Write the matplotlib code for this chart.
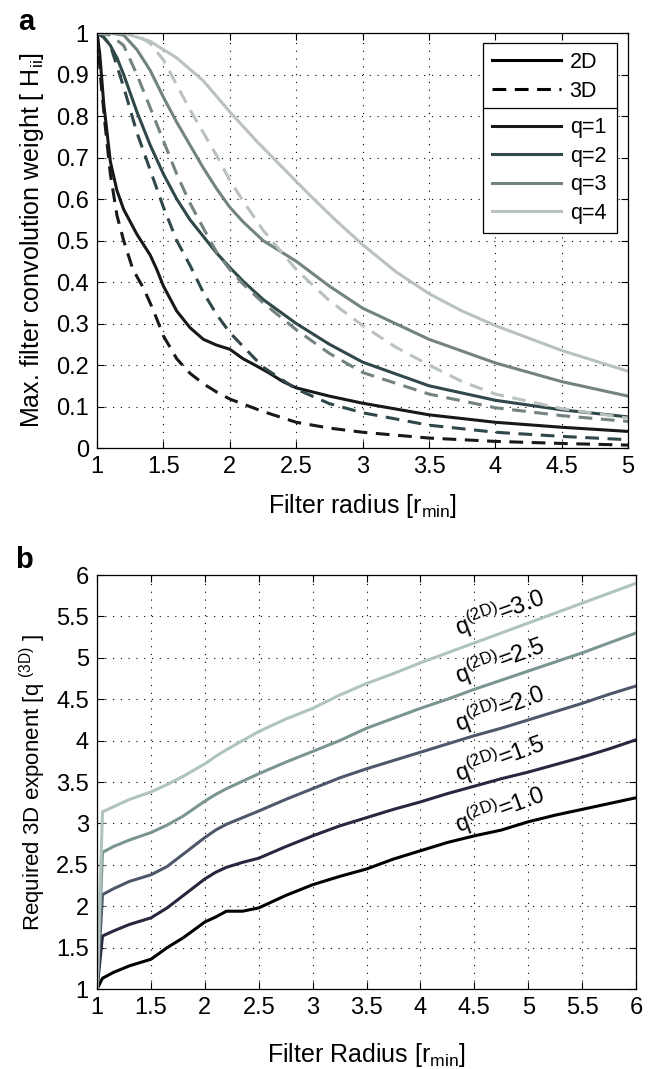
import matplotlib
matplotlib.use("Agg")
import matplotlib.pyplot as plt
from matplotlib.lines import Line2D
from matplotlib.ticker import MultipleLocator, FormatStrFormatter

plt.rcParams["font.family"] = ["Liberation Sans", "DejaVu Sans"]
plt.rcParams["mathtext.default"] = "regular"

# ── panel a: max. filter convolution weight vs filter radius ──
q1_2d_x = [1, 1.02, 1.05, 1.1, 1.15, 1.2, 1.3, 1.4, 1.45, 1.5, 1.6, 1.7, 1.8, 1.9, 2,
           2.1, 2.2, 2.3, 2.4, 2.5, 2.75, 3, 3.5, 4, 4.5, 5]
q1_2d_y = [1, 0.95, 0.83, 0.69, 0.62, 0.575, 0.515, 0.465, 0.43, 0.39, 0.33, 0.29, 0.262,
           0.248, 0.238, 0.215, 0.198, 0.18, 0.16, 0.145, 0.125, 0.108, 0.08, 0.062, 0.05, 0.04]
q1_3d_x = [1, 1.03, 1.06, 1.1, 1.15, 1.2, 1.27, 1.35, 1.42, 1.5, 1.6, 1.7, 1.8, 1.9, 2,
           2.25, 2.5, 2.75, 3, 3.5, 4, 4.5, 5]
q1_3d_y = [1, 0.88, 0.78, 0.66, 0.56, 0.5, 0.43, 0.385, 0.335, 0.27, 0.215, 0.18, 0.155,
           0.135, 0.118, 0.088, 0.062, 0.048, 0.038, 0.024, 0.016, 0.011, 0.007]
q2_2d_x = [1, 1.05, 1.1, 1.15, 1.2, 1.3, 1.4, 1.5, 1.6, 1.7, 1.8, 1.9, 2, 2.1, 2.25,
           2.5, 2.75, 3, 3.5, 4, 4.5, 5]
q2_2d_y = [1, 0.99, 0.97, 0.94, 0.9, 0.81, 0.73, 0.66, 0.6, 0.55, 0.51, 0.47, 0.435, 0.402,
           0.358, 0.3, 0.25, 0.207, 0.15, 0.115, 0.092, 0.075]
q2_3d_x = [1, 1.05, 1.1, 1.15, 1.2, 1.3, 1.4, 1.5, 1.6, 1.7, 1.8, 1.9, 2, 2.25, 2.5,
           2.75, 3, 3.5, 4, 4.5, 5]
q2_3d_y = [1, 0.99, 0.97, 0.92, 0.87, 0.76, 0.67, 0.58, 0.5, 0.44, 0.375, 0.322, 0.278,
           0.195, 0.142, 0.107, 0.085, 0.055, 0.038, 0.028, 0.02]
q3_2d_x = [1, 1.1, 1.2, 1.3, 1.4, 1.5, 1.6, 1.7, 1.8, 1.9, 2, 2.1, 2.25, 2.5, 2.75, 3,
           3.5, 4, 4.5, 5]
q3_2d_y = [1, 1.0, 0.995, 0.96, 0.91, 0.845, 0.785, 0.73, 0.675, 0.625, 0.58, 0.545, 0.5,
           0.45, 0.39, 0.337, 0.262, 0.205, 0.16, 0.125]
q3_3d_x = [1, 1.1, 1.2, 1.3, 1.4, 1.5, 1.6, 1.7, 1.8, 1.9, 2, 2.1, 2.25, 2.5, 2.75, 3,
           3.5, 4, 4.5, 5]
q3_3d_y = [1, 0.995, 0.97, 0.9, 0.82, 0.74, 0.66, 0.59, 0.53, 0.472, 0.43, 0.395, 0.35,
           0.285, 0.228, 0.182, 0.13, 0.097, 0.078, 0.064]
q4_2d_x = [1, 1.2, 1.4, 1.6, 1.8, 2, 2.2, 2.4, 2.6, 2.8, 3, 3.25, 3.5, 3.75, 4, 4.5, 5]
q4_2d_y = [1, 1.0, 0.98, 0.94, 0.885, 0.81, 0.74, 0.675, 0.61, 0.548, 0.49, 0.425, 0.372,
           0.33, 0.295, 0.235, 0.185]
q4_3d_x = [1, 1.2, 1.3, 1.4, 1.5, 1.6, 1.7, 1.8, 1.9, 2, 2.1, 2.25, 2.5, 2.75, 3, 3.25,
           3.5, 3.75, 4, 4.5, 5]
q4_3d_y = [1, 1.0, 0.995, 0.975, 0.935, 0.875, 0.815, 0.76, 0.705, 0.645, 0.595, 0.525,
           0.43, 0.355, 0.295, 0.243, 0.2, 0.16, 0.13, 0.095, 0.072]

q_labels = ["q=1", "q=2", "q=3", "q=4"]
q_colors = ["#16191b", "#30484a", "#728381", "#bac2bf"]

# ── panel b: required 3D exponent vs filter radius ──
radius_b = [1, 1.05, 1.15, 1.3, 1.5, 1.65, 1.8, 2.0, 2.1, 2.2, 2.35, 2.5, 2.75, 3.0, 3.25,
            3.5, 3.75, 4.0, 4.25, 4.5, 4.75, 5.0, 5.25, 5.5, 5.75, 6.0]
q3d_for_1_0 = [1, 1.13, 1.2, 1.28, 1.36, 1.5, 1.62, 1.81, 1.87, 1.94, 1.94, 1.98, 2.13, 2.26,
               2.36, 2.45, 2.57, 2.67, 2.77, 2.85, 2.92, 3.02, 3.1, 3.17, 3.24, 3.31]
q3d_for_1_5 = [1, 1.64, 1.70, 1.78, 1.86, 1.98, 2.13, 2.33, 2.41, 2.47, 2.53, 2.58, 2.72, 2.85,
               2.97, 3.07, 3.17, 3.26, 3.36, 3.45, 3.54, 3.62, 3.71, 3.8, 3.9, 4.01]
q3d_for_2_0 = [1, 2.14, 2.21, 2.3, 2.38, 2.48, 2.63, 2.83, 2.92, 2.99, 3.07, 3.15, 3.29, 3.42,
               3.55, 3.66, 3.76, 3.86, 3.96, 4.06, 4.15, 4.25, 4.35, 4.45, 4.56, 4.66]
q3d_for_2_5 = [1, 2.65, 2.72, 2.8, 2.89, 2.98, 3.09, 3.27, 3.35, 3.42, 3.51, 3.6, 3.74, 3.87,
               4.0, 4.15, 4.27, 4.39, 4.5, 4.62, 4.73, 4.84, 4.95, 5.06, 5.18, 5.3]
q3d_for_3_0 = [1, 3.14, 3.2, 3.29, 3.38, 3.47, 3.57, 3.72, 3.81, 3.89, 4.0, 4.11, 4.26, 4.39,
               4.55, 4.69, 4.81, 4.94, 5.06, 5.18, 5.3, 5.42, 5.54, 5.66, 5.78, 5.9]
q2d_values = ["1.0", "1.5", "2.0", "2.5", "3.0"]
b_colors = ["#000000", "#2b2640", "#4f586a", "#7a9592", "#afc3bf"]
label_pos = [(4.74, 3.16), (4.74, 3.78), (4.74, 4.39), (4.74, 4.97), (4.74, 5.54)]

TICK_FS = 17
LABEL_FS = 18
LW = 2.2
DASH = (0, (4.5, 2.8))


def style_axes(ax):
    ax.grid(True, color="black", linestyle=(0, (1, 6)), linewidth=0.8)
    ax.tick_params(direction="in", top=True, right=True, length=5, width=0.8,
                   labelsize=TICK_FS, pad=6)
    for sp in ax.spines.values():
        sp.set_linewidth(0.9)
    ax.xaxis.set_major_formatter(FormatStrFormatter("%g"))
    ax.yaxis.set_major_formatter(FormatStrFormatter("%g"))


fig = plt.figure(figsize=(6.56, 10.69), dpi=100)

# panel a
ax1 = fig.add_axes([0.148, 0.5809, 0.8095, 0.3882])
curves_a = [(q1_2d_x, q1_2d_y, q1_3d_x, q1_3d_y), (q2_2d_x, q2_2d_y, q2_3d_x, q2_3d_y),
            (q3_2d_x, q3_2d_y, q3_3d_x, q3_3d_y), (q4_2d_x, q4_2d_y, q4_3d_x, q4_3d_y)]
for (x2, y2, x3, y3), c in zip(curves_a, q_colors):
    ax1.plot(x3, y3, color=c, linewidth=LW, linestyle=DASH)
    ax1.plot(x2, y2, color=c, linewidth=LW)
ax1.set_xlim(1, 5)
ax1.set_ylim(0, 1)
ax1.xaxis.set_major_locator(MultipleLocator(0.5))
ax1.yaxis.set_major_locator(MultipleLocator(0.1))
style_axes(ax1)
ax1.set_xlabel("Filter radius [r$_{min}$]", fontsize=LABEL_FS)
ax1.set_ylabel("Max. filter convolution weight [ H$_{ii}$]", fontsize=LABEL_FS)
ax1.xaxis.set_label_coords(0.5, -0.105)
ax1.yaxis.set_label_coords(-0.097, 0.5)

leg_kw = dict(fontsize=15.5, loc="upper left", mode="expand", borderaxespad=0,
              handlelength=3.2, handletextpad=0.4, borderpad=0.42, labelspacing=0.35,
              fancybox=False, framealpha=1, edgecolor="black")
dim_handles = [Line2D([], [], color="black", linewidth=LW),
               Line2D([], [], color="black", linewidth=LW, linestyle=DASH)]
leg1 = ax1.legend(dim_handles, ["2D", "3D"], bbox_to_anchor=(0.727, 0.976, 0.252, 0), **leg_kw)
leg1.get_frame().set_linewidth(0.9)
ax1.add_artist(leg1)
q_handles = [Line2D([], [], color=c, linewidth=LW) for c in q_colors]
leg2 = ax1.legend(q_handles, q_labels, bbox_to_anchor=(0.727, 0.819, 0.252, 0), **leg_kw)
leg2.get_frame().set_linewidth(0.9)

# panel b
ax2 = fig.add_axes([0.148, 0.0748, 0.8216, 0.3873])
series_b = [q3d_for_1_0, q3d_for_1_5, q3d_for_2_0, q3d_for_2_5, q3d_for_3_0]
for ys, c, lab, (tx, ty) in zip(series_b, b_colors, q2d_values, label_pos):
    ax2.plot(radius_b, ys, color=c, linewidth=LW)
    ax2.text(tx, ty, "q$^{(2D)}$=" + lab, fontsize=TICK_FS, rotation=20,
             rotation_mode="anchor", ha="center", va="center")
ax2.set_xlim(1, 6)
ax2.set_ylim(1, 6)
ax2.xaxis.set_major_locator(MultipleLocator(0.5))
ax2.yaxis.set_major_locator(MultipleLocator(0.5))
style_axes(ax2)
ax2.set_xlabel("Filter Radius [r$_{min}$]", fontsize=LABEL_FS)
ax2.set_ylabel("Required 3D exponent [q $^{(3D)}$ ]", fontsize=16)
ax2.xaxis.set_label_coords(0.5, -0.125)
ax2.yaxis.set_label_coords(-0.091, 0.5)

fig.text(0.04, 0.979, "a", fontsize=21, fontweight="bold", ha="center", va="center")
fig.text(0.036, 0.476, "b", fontsize=21, fontweight="bold", ha="center", va="center")

fig.savefig("out.png", dpi=100)
